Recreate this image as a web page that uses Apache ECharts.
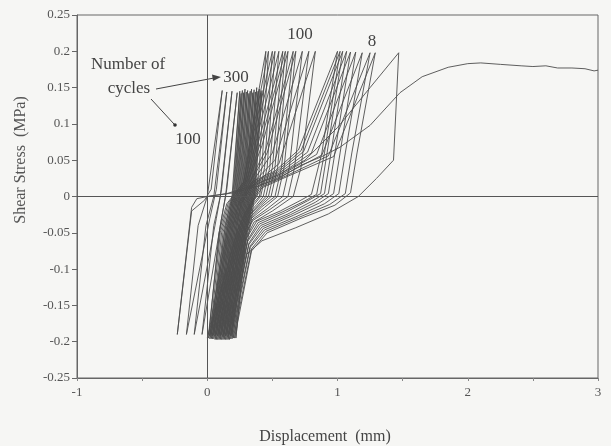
<!DOCTYPE html>
<html><head><meta charset="utf-8">
<script src="https://cdn.jsdelivr.net/npm/echarts@6/dist/echarts.min.js"></script>
<style>html,body{margin:0;padding:0;background:#f6f6f4}#c{width:611px;height:446px}</style>
</head><body><div id="c"></div>
<script>
// Axis ticks
const xTicks = [-1, 0, 1, 2, 3];
const yTicks = [-0.25, -0.2, -0.15, -0.1, -0.05, 0, 0.05, 0.1, 0.15, 0.2, 0.25];

// First cycle (displacement mm, shear stress MPa)
const firstCycle = [[0,0],[0.15,0.004],[0.35,0.015],[0.55,0.03],[0.75,0.05],[1.0,0.095],[1.25,0.15],[1.47,0.198],[1.43,0.05],[1.3,0.025],[1.16,0.0],[0.93,-0.024],[0.68,-0.043],[0.42,-0.061],[0.3,-0.08],[0.26,-0.12],[0.22,-0.195]];

// Early cycles (peak 0.2 MPa, right group, "8")
const earlyCycles = [
 [[0.22,-0.195],[0.3,-0.05],[0.34,-0.01],[0.42,0.012],[0.62,0.028],[0.97,0.055],[1.29,0.198],[1.15,0.06],[1.1,0.005],[0.98,-0.012],[0.72,-0.03],[0.46,-0.05],[0.34,-0.075],[0.21,-0.195]],
 [[0.21,-0.195],[0.29,-0.05],[0.33,-0.01],[0.41,0.013],[0.6,0.028],[0.93,0.056],[1.25,0.198],[1.11,0.06],[1.06,0.004],[0.94,-0.011],[0.7,-0.029],[0.45,-0.048],[0.34,-0.072],[0.2,-0.195]],
 [[0.2,-0.195],[0.28,-0.05],[0.32,-0.01],[0.4,0.014],[0.58,0.029],[0.88,0.057],[1.19,0.198],[1.06,0.06],[1.01,0.004],[0.9,-0.01],[0.68,-0.028],[0.44,-0.046],[0.33,-0.07],[0.19,-0.196]],
 [[0.19,-0.196],[0.27,-0.05],[0.31,-0.01],[0.39,0.015],[0.57,0.03],[0.84,0.058],[1.14,0.199],[1.02,0.06],[0.97,0.004],[0.86,-0.009],[0.66,-0.026],[0.43,-0.044],[0.33,-0.068],[0.18,-0.196]],
 [[0.18,-0.196],[0.26,-0.05],[0.3,-0.01],[0.38,0.016],[0.56,0.031],[0.8,0.06],[1.1,0.199],[0.98,0.06],[0.93,0.004],[0.83,-0.008],[0.64,-0.025],[0.42,-0.042],[0.32,-0.066],[0.17,-0.197]],
 [[0.17,-0.197],[0.25,-0.05],[0.29,-0.01],[0.37,0.017],[0.55,0.032],[0.77,0.061],[1.07,0.2],[0.95,0.06],[0.9,0.004],[0.8,-0.007],[0.62,-0.024],[0.41,-0.04],[0.32,-0.064],[0.16,-0.197]],
 [[0.16,-0.197],[0.24,-0.05],[0.28,-0.01],[0.36,0.018],[0.54,0.033],[0.74,0.062],[1.04,0.2],[0.92,0.06],[0.87,0.004],[0.77,-0.006],[0.6,-0.022],[0.4,-0.038],[0.31,-0.062],[0.15,-0.197]],
 [[0.15,-0.197],[0.23,-0.05],[0.27,-0.01],[0.35,0.019],[0.53,0.034],[0.72,0.063],[1.02,0.2],[0.9,0.06],[0.84,0.003],[0.75,-0.006],[0.58,-0.021],[0.39,-0.036],[0.31,-0.06],[0.14,-0.197]],
 [[0.14,-0.197],[0.22,-0.05],[0.26,-0.01],[0.34,0.02],[0.52,0.035],[0.7,0.064],[1.0,0.2],[0.88,0.06],[0.8,0.003],[0.72,-0.005],[0.56,-0.02],[0.38,-0.034],[0.3,-0.058],[0.13,-0.197]]
];

// Middle cycles (peak 0.2 MPa, "100")
const middleCycles = [
 [[0.13,-0.197],[0.21,-0.05],[0.26,-0.01],[0.34,0.014],[0.55,0.045],[0.83,0.2],[0.72,0.04],[0.66,0.0],[0.5,-0.02],[0.36,-0.035],[0.29,-0.06],[0.12,-0.197]],
 [[0.12,-0.197],[0.2,-0.05],[0.25,-0.01],[0.33,0.015],[0.52,0.05],[0.78,0.2],[0.67,0.04],[0.62,0.0],[0.48,-0.018],[0.35,-0.033],[0.28,-0.058],[0.11,-0.197]],
 [[0.11,-0.197],[0.19,-0.05],[0.24,-0.01],[0.33,0.016],[0.5,0.06],[0.73,0.2],[0.63,0.04],[0.58,0.0],[0.46,-0.017],[0.35,-0.031],[0.28,-0.056],[0.1,-0.197]],
 [[0.1,-0.197],[0.18,-0.05],[0.24,-0.01],[0.32,0.017],[0.46,0.06],[0.68,0.2],[0.59,0.04],[0.54,0.0],[0.44,-0.015],[0.34,-0.03],[0.27,-0.055],[0.09,-0.197]],
 [[0.09,-0.197],[0.17,-0.05],[0.23,-0.01],[0.32,0.018],[0.45,0.065],[0.66,0.2],[0.57,0.04],[0.52,0.0],[0.42,-0.014],[0.33,-0.03],[0.27,-0.054],[0.08,-0.197]],
 [[0.08,-0.197],[0.16,-0.05],[0.22,-0.01],[0.31,0.018],[0.42,0.07],[0.62,0.2],[0.54,0.04],[0.49,0.0],[0.41,-0.013],[0.33,-0.028],[0.26,-0.053],[0.07,-0.197]],
 [[0.07,-0.197],[0.15,-0.05],[0.21,-0.01],[0.31,0.02],[0.41,0.075],[0.6,0.2],[0.52,0.04],[0.47,0.0],[0.4,-0.012],[0.32,-0.027],[0.26,-0.052],[0.06,-0.197]],
 [[0.06,-0.197],[0.14,-0.05],[0.2,-0.01],[0.3,0.02],[0.4,0.08],[0.58,0.2],[0.5,0.04],[0.45,0.0],[0.39,-0.012],[0.32,-0.026],[0.25,-0.051],[0.05,-0.196]],
 [[0.05,-0.196],[0.13,-0.05],[0.19,-0.01],[0.3,0.02],[0.38,0.08],[0.55,0.2],[0.48,0.04],[0.43,0.0],[0.38,-0.011],[0.31,-0.025],[0.25,-0.05],[0.04,-0.196]],
 [[0.04,-0.196],[0.12,-0.05],[0.18,-0.01],[0.29,0.02],[0.37,0.085],[0.52,0.2],[0.46,0.04],[0.41,0.0],[0.36,-0.011],[0.3,-0.025],[0.24,-0.05],[0.03,-0.196]],
 [[0.03,-0.196],[0.11,-0.05],[0.17,-0.01],[0.29,0.02],[0.36,0.09],[0.5,0.2],[0.44,0.04],[0.4,0.0],[0.35,-0.01],[0.3,-0.024],[0.24,-0.049],[0.02,-0.196]],
 [[0.02,-0.196],[0.1,-0.05],[0.16,-0.01],[0.28,0.02],[0.35,0.09],[0.47,0.2],[0.42,0.04],[0.38,0.0],[0.34,-0.01],[0.29,-0.024],[0.23,-0.048],[0.01,-0.195]],
 [[0.01,-0.195],[0.09,-0.05],[0.15,-0.01],[0.28,0.02],[0.34,0.09],[0.45,0.2],[0.4,0.04],[0.37,0.0],[0.33,-0.01],[0.29,-0.023],[0.23,-0.047],[0.0,-0.195]]
];

// Late cycles (peak ~0.145 MPa, dark bundle)
const lateCycles = [
 [[0.19,-0.19],[0.31,-0.04],[0.36,0.0],[0.42,0.146],[0.37,0.01],[0.34,-0.03],[0.18,-0.192]],
 [[0.18,-0.192],[0.3,-0.04],[0.35,0.0],[0.41,0.143],[0.36,0.01],[0.33,-0.03],[0.17,-0.19]],
 [[0.17,-0.19],[0.29,-0.04],[0.34,0.0],[0.4,0.148],[0.35,0.01],[0.32,-0.03],[0.16,-0.193]],
 [[0.16,-0.193],[0.28,-0.04],[0.33,0.0],[0.39,0.145],[0.34,0.01],[0.31,-0.03],[0.15,-0.19]],
 [[0.15,-0.19],[0.27,-0.04],[0.32,0.0],[0.38,0.15],[0.33,0.01],[0.3,-0.03],[0.14,-0.192]],
 [[0.14,-0.192],[0.26,-0.04],[0.31,0.0],[0.37,0.144],[0.32,0.01],[0.29,-0.03],[0.13,-0.19]],
 [[0.13,-0.19],[0.25,-0.04],[0.3,0.0],[0.36,0.147],[0.31,0.01],[0.28,-0.03],[0.12,-0.193]],
 [[0.12,-0.193],[0.24,-0.04],[0.29,0.0],[0.35,0.143],[0.3,0.01],[0.27,-0.03],[0.11,-0.19]],
 [[0.11,-0.19],[0.23,-0.04],[0.28,0.0],[0.34,0.148],[0.29,0.01],[0.26,-0.03],[0.1,-0.192]],
 [[0.1,-0.192],[0.22,-0.04],[0.27,0.0],[0.33,0.145],[0.28,0.01],[0.25,-0.03],[0.09,-0.19]],
 [[0.09,-0.19],[0.21,-0.04],[0.26,0.0],[0.32,0.142],[0.27,0.01],[0.24,-0.03],[0.08,-0.192]],
 [[0.08,-0.192],[0.2,-0.04],[0.25,0.0],[0.31,0.146],[0.26,0.01],[0.23,-0.03],[0.07,-0.19]],
 [[0.07,-0.19],[0.19,-0.04],[0.24,0.0],[0.3,0.144],[0.25,0.01],[0.22,-0.03],[0.06,-0.192]],
 [[0.06,-0.192],[0.18,-0.04],[0.23,0.0],[0.29,0.148],[0.24,0.01],[0.21,-0.03],[0.05,-0.19]],
 [[0.05,-0.19],[0.17,-0.04],[0.22,0.0],[0.28,0.143],[0.23,0.01],[0.2,-0.03],[0.04,-0.192]],
 [[0.04,-0.192],[0.16,-0.04],[0.21,0.0],[0.27,0.146],[0.22,0.01],[0.19,-0.03],[0.03,-0.19]],
 [[0.03,-0.19],[0.15,-0.04],[0.2,0.0],[0.26,0.142],[0.21,0.01],[0.18,-0.03],[0.02,-0.192]],
 [[0.02,-0.192],[0.14,-0.04],[0.19,0.0],[0.25,0.145],[0.2,0.01],[0.17,-0.03],[0.01,-0.19]]
];

// Last cycles (left, "300")
const lastCycles = [
 [[0.01,-0.19],[0.1,-0.04],[0.14,0.0],[0.23,0.143],[0.15,0.01],[0.11,-0.03],[-0.04,-0.19]],
 [[-0.04,-0.19],[0.05,-0.04],[0.1,0.0],[0.19,0.145],[0.11,0.01],[0.07,-0.03],[-0.1,-0.19]],
 [[-0.1,-0.19],[-0.01,-0.04],[0.05,0.0],[0.15,0.144],[0.07,0.01],[0.02,-0.03],[-0.16,-0.19]],
 [[-0.16,-0.19],[-0.07,-0.04],[0.0,0.0],[0.115,0.146],[0.03,0.01],[-0.02,-0.005],[-0.12,-0.02],[-0.23,-0.19],[-0.12,-0.015],[-0.08,-0.003],[0.0,0.0]]
];

// Final monotonic loading
const monotonic = [[0.0,0.0],[0.2,0.005],[0.4,0.015],[0.55,0.025],[0.72,0.043],[0.88,0.055],[1.02,0.068],[1.25,0.098],[1.48,0.143],[1.65,0.165],[1.85,0.178],[2.0,0.183],[2.1,0.184],[2.25,0.182],[2.41,0.18],[2.5,0.179],[2.6,0.18],[2.69,0.177],[2.8,0.177],[2.9,0.176],[2.97,0.173],[3.0,0.174]];

const LINE = '#4d4d4d';
const mk = (data) => ({type:'line', data, showSymbol:false, symbol:'none', silent:true, animation:false,
  lineStyle:{color:LINE, width:0.9}, clip:true});

const series = [firstCycle, ...earlyCycles, ...middleCycles, ...lateCycles, ...lastCycles].map(mk);
const mono = mk(monotonic);
mono.markLine = {silent:true, symbol:['none','none'], label:{show:false}, animation:false,
  lineStyle:{color:'#555', width:1, type:'solid'}, data:[{xAxis:0},{yAxis:0}]};
series.push(mono);

const serif = '"Liberation Serif", "Times New Roman", serif';
const chart = echarts.init(document.getElementById('c'), null, {renderer:'canvas'});
chart.setOption({
  backgroundColor:'#f6f6f4',
  animation:false,
  grid:{left:77, right:13, top:15, bottom:68, show:true, borderColor:'#666', borderWidth:1, backgroundColor:'transparent'},
  xAxis:{type:'value', min:xTicks[0], max:xTicks[xTicks.length-1], interval:0.5,
    axisLine:{show:true, onZero:false, lineStyle:{color:'#666'}},
    axisTick:{show:true, length:3, lineStyle:{color:'#888'}},
    splitLine:{show:false},
    axisLabel:{color:'#555', fontFamily:serif, fontSize:13, margin:8,
      formatter:v => xTicks.includes(v) ? String(v) : ''}},
  yAxis:{type:'value', min:yTicks[0], max:yTicks[yTicks.length-1], interval:0.05,
    axisLine:{show:true, onZero:false, lineStyle:{color:'#666'}},
    axisTick:{show:true, length:5, lineStyle:{color:'#666'}},
    splitLine:{show:false},
    axisLabel:{color:'#555', fontFamily:serif, fontSize:13, margin:7,
      formatter:v => String(parseFloat(v.toFixed(2)))}},
  series,
  graphic:[
    {type:'text', x:21, y:160, rotation:Math.PI/2, style:{text:'Shear Stress  (MPa)', fill:'#555', font:'16px '+serif, textAlign:'center', textVerticalAlign:'middle'}},
    {type:'text', x:325, y:437, style:{text:'Displacement  (mm)', fill:'#444', font:'16px '+serif, textAlign:'center', textVerticalAlign:'middle'}},
    {type:'text', x:128, y:65, style:{text:'Number of', fill:'#444', font:'17px '+serif, textAlign:'center', textVerticalAlign:'middle'}},
    {type:'text', x:129, y:89, style:{text:'cycles', fill:'#444', font:'17px '+serif, textAlign:'center', textVerticalAlign:'middle'}},
    {type:'text', x:236, y:78, style:{text:'300', fill:'#444', font:'17px '+serif, textAlign:'center', textVerticalAlign:'middle'}},
    {type:'text', x:188, y:140, style:{text:'100', fill:'#444', font:'17px '+serif, textAlign:'center', textVerticalAlign:'middle'}},
    {type:'text', x:300, y:35, style:{text:'100', fill:'#444', font:'17px '+serif, textAlign:'center', textVerticalAlign:'middle'}},
    {type:'text', x:372, y:42, style:{text:'8', fill:'#444', font:'17px '+serif, textAlign:'center', textVerticalAlign:'middle'}},
    {type:'line', shape:{x1:156, y1:89, x2:214, y2:78}, style:{stroke:'#444', lineWidth:1}},
    {type:'polygon', shape:{points:[[221,77],[212,74.5],[213,81]]}, style:{fill:'#444'}},
    {type:'line', shape:{x1:151, y1:99, x2:174, y2:124}, style:{stroke:'#444', lineWidth:1}},
    {type:'circle', shape:{cx:175, cy:125, r:1.8}, style:{fill:'#333'}}
  ]
});
</script></body></html>
